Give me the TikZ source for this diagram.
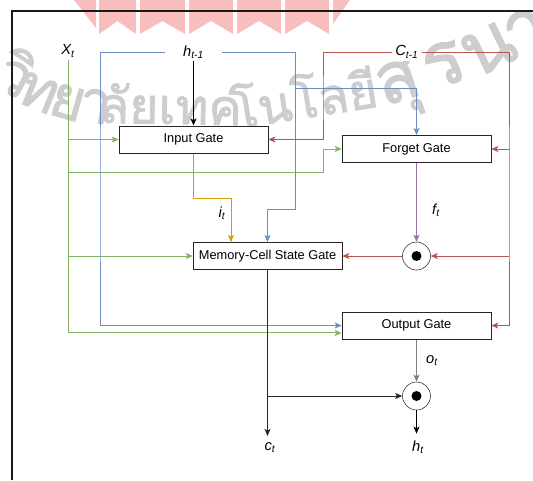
\documentclass[tikz,border=0pt]{standalone}
\usepackage{fontspec}
\setmainfont{Liberation Sans}
\newfontfamily\thaifont[Script=Thai, FakeBold=1.6]{Loma}
\usepackage{tikz}
\usetikzlibrary{arrows.meta, positioning}

\definecolor{xgreen}{HTML}{82B366}
\definecolor{hblue}{HTML}{6C8EBF}
\definecolor{cred}{HTML}{B85450}
\definecolor{iorange}{HTML}{D79B00}
\definecolor{fpurple}{HTML}{9673A6}
\definecolor{ogray}{HTML}{808080}
\definecolor{logopink}{HTML}{F8BDBD}
\definecolor{wmgray}{HTML}{CDCDCD}

\begin{document}
\begin{tikzpicture}[
    x=0.75pt, y=-0.75pt,
    gate/.style={rectangle, draw=black!85, fill=white, minimum width=111.75pt, minimum height=20.6pt, inner sep=0pt, font=\fontsize{9.6}{11}\selectfont},
    mult/.style={circle, draw=black!85, fill=white, minimum size=21pt, inner sep=0pt, path picture={\fill[black] (path picture bounding box.center) circle (3.75pt);}},
    lbl/.style={fill=white, inner sep=2pt, font=\fontsize{11}{13}\selectfont\itshape},
    wire/.style={line width=0.75pt},
    arrow/.style={wire, -{Stealth[length=5.25pt, width=4.5pt, inset=1.2pt]}},
    wmark/.style={text=wmgray, font=\thaifont\fontsize{44}{44}\selectfont, inner sep=0pt, anchor=base}
]
\useasboundingbox (0,0) rectangle (533,480);
\clip (0,0) rectangle (533,480);

% Logo and watermark
\foreach \l/\r in {99/136, 140/185, 189/233, 237/281, 285/329}
    \fill[logopink] (\l,0) -- (\r,0) -- (\r,34) -- ({(\l+\r)/2},21) -- (\l,34) -- cycle;
\fill[logopink] (74,0) -- (96,0) -- (96,28) -- cycle;
\fill[logopink] (333,0) -- (350,0) -- (333,24) -- cycle;
\foreach \ch/\px/\py/\ang/\sc [count=\k] in {วิ/6/93/-28/1, ท/32/108/-22/1, ย/63/118/-16/1, า/92/122/-11/1, ลัยเทค/170/124/-1/0.85, โนโลยี/307/118/9/0.85, สุ/404/100/18/1.2, ร/452/84/22/1.3, น/498/68/26/1.3, า/537/50/29/1.3}
    \node[wmark, rotate=\ang, scale=\sc] (wm\k) at (\px,\py) {\ch};

% Frame
\draw[line width=1.5pt, black!90] (12,480) -- (12,11) -- (533,11);

% Inputs
\node[lbl] (xt) at (68,51) {X\textsubscript{t}};
\node[lbl, minimum width=42pt] (hp) at (193.5,52) {h\textsubscript{t-1}};
\node[lbl] (cp) at (407,52) {C\textsubscript{t-1}};

% Gates
\node[gate] (ig) at (193.5,139.5) {Input Gate};
\node[gate] (fg) at (416.5,149) {Forget Gate};
\node[gate] (mg) at (267.5,256) {Memory-Cell State Gate};
\node[gate] (og) at (416.5,325.5) {Output Gate};
\node[mult] (fm) at (416.5,256) {};
\node[mult] (hm) at (416.5,396) {};

% Gate signals and outputs
\node[lbl] (it) at (222,213) {i\textsubscript{t}};
\node[lbl] (ft) at (436,210) {f\textsubscript{t}};
\node[lbl] (ot) at (432,361) {o\textsubscript{t}};
\node[lbl] (ct) at (270,448) {c\textsubscript{t}};
\node[lbl] (ht) at (418,447) {h\textsubscript{t}};

% Bend points
\coordinate (gbend) at (323,172);
\coordinate (bleft) at (100,200);
\coordinate (bsplit) at (295,88);
\coordinate (bturn) at (295,209);
\coordinate (rleft) at (323,100);
\coordinate (rright) at (509,200);
\coordinate (obend) at (231,198);

% x_t wires
\draw[arrow, xgreen] (xt.south) |- ([yshift=-5.6pt]og.west);
\draw[arrow, xgreen] (xt.south |- ig.west) -- (ig.west);
\draw[arrow, xgreen] (xt.south |- gbend) -- (gbend) |- (fg.west);
\draw[arrow, xgreen] (xt.south |- mg.west) -- (mg.west);

% h_{t-1} wires
\draw[arrow] (hp.south) -- (ig.north);
\draw[arrow, hblue] (hp.west) -| (bleft) |- (og.west);
\draw[wire, hblue] (hp.east) -| (bsplit);
\draw[arrow, hblue] (bsplit) -| (fg.north);
\draw[arrow, hblue] (bsplit) -- (bturn) -| (mg.north);

% C_{t-1} wires
\draw[arrow, cred] (cp.west) -| (rleft) |- (ig.east);
\draw[arrow, cred] (cp.east) -| (rright) |- (og.east);
\draw[arrow, cred] (rright |- fg.east) -- (fg.east);
\draw[arrow, cred] (rright |- fm.east) -- (fm.east);
\draw[arrow, cred] (fm.west) -- (mg.east);

% Gate outputs
\draw[arrow, iorange] (ig.south) |- (obend) -- (obend |- mg.north);
\draw[arrow, fpurple] (fg.south) -- (fm.north);
\draw[arrow, ogray] (og.south) -- (hm.north);
\draw[arrow, black!85, shorten >=3pt] (mg.south) -- (mg.south |- ct.north);
\draw[arrow, black!85] (mg.south |- hm.west) -- (hm.west);
\draw[arrow, shorten >=3pt] (hm.south) -- (hm.south |- ht.north);

\end{tikzpicture}
\end{document}
